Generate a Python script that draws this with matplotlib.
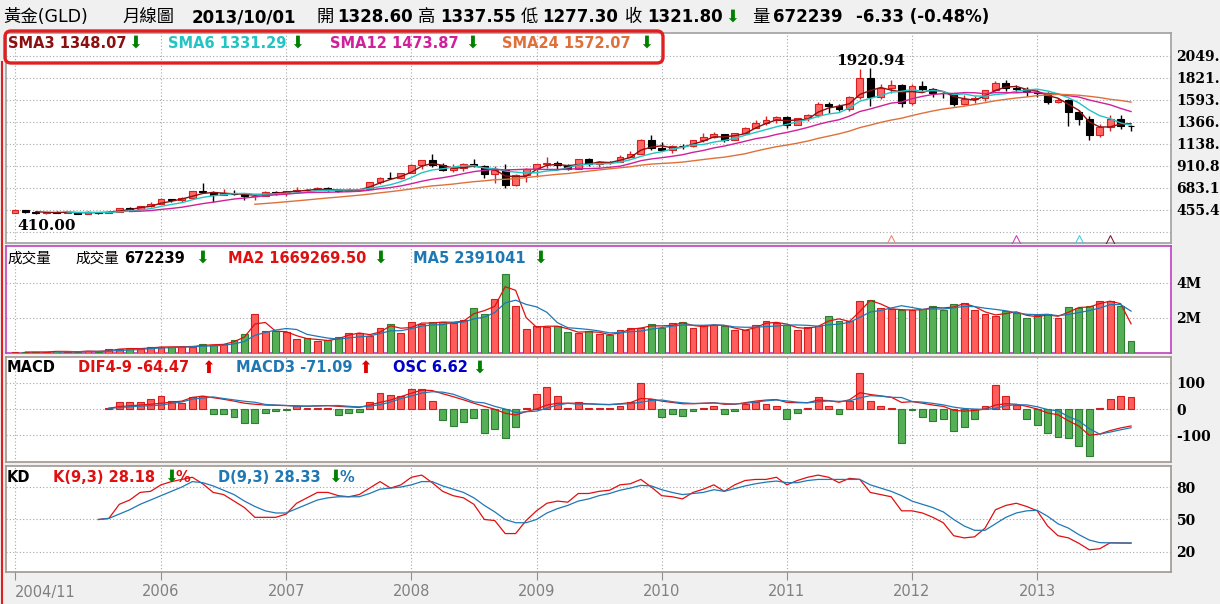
import numpy as np
import pandas as pd
import matplotlib
matplotlib.use('Agg')
import matplotlib.pyplot as plt
from matplotlib.patches import FancyBboxPatch
from matplotlib.lines import Line2D
from matplotlib.transforms import IdentityTransform

plt.rcParams['font.family'] = ['DejaVu Sans', 'Noto Sans CJK TC']

# ---- GLD monthly bars, 2004/11 .. 2013/10 (108 months) ----
opens = [428.5, 453.4,
         438.0, 422.2, 435.5, 428.6, 435.5, 417.6, 435.7, 429.0, 433.3, 473.3, 470.8, 495.7,
         513.0, 568.8, 556.0, 582.0, 654.0, 643.0, 614.0, 632.0, 623.0, 599.0, 604.0, 646.0,
         632.0, 650.0, 665.0, 663.0, 680.0, 659.0, 650.0, 665.0, 673.0, 743.0, 790.0, 783.0,
         834.0, 923.0, 972.0, 916.0, 865.0, 886.0, 930.0, 914.0, 833.0, 872.0, 718.0, 815.0,
         882.0, 927.0, 942.0, 916.0, 883.0, 978.0, 927.0, 955.0, 954.5, 1001.0, 1040.0, 1182.0,
         1096.0, 1081.0, 1118.0, 1113.0, 1180.0, 1212.0, 1244.0, 1181.0, 1248.0, 1307.0, 1357.0, 1386.0,
         1421.0, 1332.0, 1410.0, 1439.0, 1556.0, 1536.0, 1500.0, 1628.0, 1826.0, 1620.0, 1722.0, 1746.0,
         1561.24, 1737.0, 1711.0, 1668.0, 1664.0, 1555.0, 1604.0, 1614.0, 1692.0, 1772.0, 1719.0, 1711.0,
         1678.7, 1664.0, 1578.0, 1595.0, 1472.0, 1393.0, 1234.0, 1316.53, 1394.28, 1328.60]
highs = [456.3, 456.8,
         443.8, 439.6, 447.0, 437.5, 436.5, 443.8, 436.3, 448.0, 477.3, 481.5, 497.1, 540.0,
         575.0, 572.8, 587.0, 655.0, 730.4, 650.0, 669.0, 664.0, 634.0, 607.0, 648.0, 650.0,
         654.0, 690.0, 670.0, 692.0, 690.0, 673.0, 683.0, 675.0, 747.0, 794.0, 845.0, 840.0,
         934.0, 976.0, 1033.0, 945.0, 935.0, 937.0, 988.0, 916.0, 912.0, 934.0, 829.0, 887.0,
         933.0, 1006.0, 958.0, 932.0, 983.0, 990.0, 960.0, 967.0, 1024.0, 1070.0, 1195.0, 1227.0,
         1161.0, 1128.0, 1139.0, 1182.0, 1249.0, 1265.0, 1245.0, 1252.0, 1311.0, 1388.0, 1424.0, 1431.0,
         1424.0, 1411.0, 1447.0, 1576.0, 1577.0, 1553.0, 1632.0, 1911.0, 1920.94, 1764.0, 1803.0, 1764.0,
         1764.0, 1791.0, 1715.0, 1676.0, 1670.0, 1641.0, 1630.0, 1693.0, 1790.0, 1796.0, 1754.0, 1726.0,
         1695.0, 1680.0, 1617.0, 1600.0, 1487.0, 1424.0, 1348.0, 1434.0, 1434.0, 1337.55]
lows = [420.6, 426.4,
        416.3, 410.0, 424.4, 419.5, 414.3, 413.8, 418.0, 427.3, 432.0, 460.6, 456.0, 489.0,
        513.0, 538.0, 537.0, 580.0, 638.0, 543.0, 609.0, 613.0, 560.0, 562.0, 600.0, 609.0,
        604.0, 645.0, 637.0, 663.0, 651.0, 640.0, 648.0, 648.0, 672.0, 722.0, 777.0, 781.0,
        834.0, 882.0, 901.0, 859.0, 849.0, 859.0, 904.0, 786.0, 736.0, 681.0, 702.0, 750.0,
        801.0, 887.0, 865.0, 866.0, 881.0, 913.0, 905.0, 931.0, 948.0, 1000.0, 1033.0, 1075.0,
        1075.0, 1044.0, 1088.0, 1110.0, 1163.0, 1199.0, 1155.0, 1177.0, 1243.0, 1300.0, 1331.0, 1360.0,
        1308.0, 1330.0, 1381.0, 1420.0, 1462.0, 1477.0, 1478.0, 1605.0, 1535.0, 1603.0, 1670.0, 1523.0,
        1540.0, 1690.0, 1627.0, 1612.0, 1527.0, 1547.0, 1563.0, 1583.0, 1686.0, 1691.0, 1672.0, 1635.0,
        1626.0, 1555.0, 1562.0, 1321.0, 1338.0, 1180.0, 1208.0, 1271.0, 1292.0, 1277.30]
closes = [453.4, 438.0,
          422.2, 435.5, 428.6, 435.5, 417.6, 435.7, 429.0, 433.3, 473.3, 470.8, 495.7, 513.0,
          568.8, 556.0, 582.0, 654.0, 643.0, 614.0, 632.0, 623.0, 599.0, 604.0, 646.0, 632.0,
          650.0, 665.0, 663.0, 680.0, 659.0, 650.0, 665.0, 673.0, 743.0, 790.0, 783.0, 834.0,
          923.0, 972.0, 916.0, 865.0, 886.0, 930.0, 914.0, 833.0, 872.0, 718.0, 815.0, 882.0,
          927.0, 942.0, 916.0, 883.0, 978.0, 927.0, 955.0, 954.5, 1001.0, 1040.0, 1182.0, 1096.0,
          1081.0, 1118.0, 1113.0, 1180.0, 1212.0, 1244.0, 1181.0, 1248.0, 1307.0, 1357.0, 1386.0, 1421.0,
          1332.0, 1410.0, 1439.0, 1556.0, 1536.0, 1500.0, 1628.0, 1826.0, 1620.0, 1722.0, 1746.0, 1561.24,
          1737.0, 1711.0, 1668.0, 1664.0, 1555.0, 1604.0, 1614.0, 1692.0, 1772.0, 1719.0, 1711.0, 1678.7,
          1664.0, 1578.0, 1595.0, 1472.0, 1393.0, 1234.0, 1316.53, 1394.28, 1328.13, 1321.80]
# volume in millions
volumes_m = [0.05, 0.06,
             0.06, 0.06, 0.12, 0.06, 0.08, 0.13, 0.06, 0.20, 0.24, 0.26, 0.24, 0.33,
             0.35, 0.35, 0.37, 0.37, 0.49, 0.45, 0.53, 0.76, 1.06, 2.25, 1.24, 1.24,
             1.20, 0.78, 0.86, 0.69, 0.73, 0.90, 1.14, 1.14, 0.96, 1.43, 1.67, 1.16,
             1.75, 1.67, 1.75, 1.78, 1.73, 1.90, 2.59, 2.25, 3.08, 4.49, 2.67, 1.39,
             1.55, 1.51, 1.55, 1.22, 1.16, 1.27, 1.10, 1.00, 1.30, 1.40, 1.45, 1.65,
             1.45, 1.70, 1.75, 1.40, 1.60, 1.60, 1.55, 1.30, 1.30, 1.60, 1.80, 1.70,
             1.60, 1.30, 1.50, 1.55, 2.10, 1.80, 1.80, 2.95, 3.05, 2.55, 2.50, 2.45,
             2.45, 2.50, 2.70, 2.45, 2.80, 2.85, 2.45, 2.25, 2.10, 2.40, 2.30, 2.00,
             2.15, 2.20, 2.00, 2.65, 2.55, 2.70, 2.95, 2.966666, 2.6663, 0.672239]

# MACD (DIF 4-9 and OSC), from month 9 on
dif = [3, 9, 12, 15, 18, 22, 26, 30, 44, 49, 43, 37, 30, 22, 18, 15, 14, 13, 12, 11,
       12, 13, 10, 8, 6, 15, 25, 34, 47, 60, 72, 70, 58, 47, 35, 22, 10, -1, -16, -23,
       -10, 0, 15, 22, 22, 22, 20, 18, 17, 20, 24, 40, 38, 30, 25, 20, 20, 22, 24, 18,
       18, 24, 30, 34, 36, 25, 24, 24, 34, 32, 26, 35, 62, 55, 50, 45, 25, 28, 22, 15,
       10, -5, -8, -6, 0, 15, 20, 18, 10, 0, -15, -22, -45, -65, -100, -95, -82, -72, -64.47]
osc = [0.5, 3.6, 3.6, 4.0, 5.3, 7.3, 4.6, 3.1, 6.7, 7.3, -2.9, -2.9, -4.6, -7.4, -7.7, -2.3,
       -1.1, -0.4, 1.4, 0.6, 0.4, 0.4, -3.3, -2.3, -1.9, 4.0, 8.6, 7.6, 7.0, 10.7, 11.1, 4.3,
       -6.1, -9.3, -7.0, -5.0, -13.1, -11.0, -15.9, -9.7, 0.4, 8.0, 11.7, 6.9, 0.4, 3.6, 0.7,
       0.7, 0.4, 1.4, 3.6, 14.3, 5.7, -4.3, -2.9, -3.6, -1.1, 0.7, 1.4, -2.9, -1.1, 2.9, 3.6,
       2.9, 1.7, -5.7, -2.1, 0.4, 6.4, 1.4, -2.9, 4.3, 19.6, 4.3, 1.4, 0.7, -18.6, -0.7, -4.3,
       -6.4, -5.7, -12.1, -10.0, -5.7, 1.4, 12.9, 7.1, 2.1, -5.7, -8.6, -12.9, -15.0, -15.7,
       -20.0, -25.4, 0.7, 5.7, 7.1, 6.62]
OSC_SCALE = 7  # histogram is drawn magnified against the line scale

# KD(9,3), from month 8 on
k_vals = [50, 51, 64, 68, 75, 76, 82, 85, 87, 89, 83, 75, 73, 67, 61, 52, 52, 52, 55, 65,
          70, 75, 75, 72, 71, 73, 79, 85, 79, 82, 89, 91, 84, 76, 72, 70, 64, 50, 49, 37,
          37, 49, 58, 65, 67, 66, 74, 74, 76, 77, 82, 83, 87, 80, 72, 71, 69, 75, 78, 82,
          76, 82, 86, 87, 87, 89, 82, 86, 89, 91, 89, 84, 88, 87, 75, 73, 71, 58, 58, 56,
          52, 47, 35, 33, 34, 42, 59, 63, 65, 62, 58, 44, 35, 33, 28, 22, 23, 28.5, 28.3, 28.18]
d_vals = [50, 51, 55, 59, 64, 68, 72, 76, 80, 85, 84, 81, 77, 73, 67, 62, 58, 56, 56, 60,
          64, 68, 70, 71, 71, 71, 74, 78, 79, 80, 82, 85, 85, 81, 78, 75, 70, 63, 57, 50,
          47, 47, 50, 56, 60, 63, 67, 69, 72, 74, 77, 79, 81.5, 81, 77.5, 75, 73, 74, 75, 77.5,
          76, 78.5, 81, 83, 84.5, 85.5, 84, 84, 86, 87, 87, 87, 87, 87, 82, 79, 76, 72, 67, 64,
          61, 57, 50, 44, 40, 40, 46, 52, 56, 58, 58.5, 53, 46, 42, 36, 31, 28.6, 28.4, 28.3, 28.33]

year_ticks = [0, 14, 26, 38, 50, 62, 74, 86, 98]
year_labels = ['2004/11', '2006', '2007', '2008', '2009', '2010', '2011', '2012', '2013']
price_ticks = [227.7, 455.4, 683.1, 910.8, 1138.5, 1366.2, 1593.9, 1821.6, 2049.3]
cross_idx = [84, 96, 102, 105]
cross_colors = ['#F08878', '#D040C0', '#40D0E0', '#802040']

W, H = 1220, 604
fig = plt.figure(figsize=(W / 100, H / 100), dpi=100, facecolor='#F0F0F0')

n = len(closes)
x = np.arange(n)
o = np.array(opens); c = np.array(closes)
hi = np.array(highs); lo = np.array(lows)
vol = np.array(volumes_m) * 1e6
up = c >= o

grid_kw = dict(color='#A8A8A8', linestyle=(0, (1, 2)), linewidth=0.8)
XL = (-0.86, 110.83)
RED_FILL, RED_EDGE = '#FF5C5C', '#D02020'
GRN_FILL, GRN_EDGE = '#55B055', '#2E7D32'


def panel(top, bottom, edge):
    ax = fig.add_axes([6 / W, 1 - bottom / H, 1165 / W, (bottom - top) / H])
    ax.set_xlim(*XL)
    ax.set_facecolor('white')
    for s in ax.spines.values():
        s.set_color(edge)
        s.set_linewidth(1.2)
    ax.set_xticks(year_ticks)
    ax.tick_params(axis='x', length=0, labelbottom=False)
    ax.grid(axis='both', **grid_kw)
    ax.set_axisbelow(True)
    ax.yaxis.tick_right()
    ax.tick_params(axis='y', length=0, pad=4, labelsize=10)
    return ax


def bold_ticks(ax, vals, labels):
    ax.set_yticks(vals)
    ax.set_yticklabels(labels, fontweight='bold', family='DejaVu Serif')


# ---- price panel ----
ax1 = panel(33, 243, '#A0A0A0')
ax1.set_ylim(113.9, 2287)
# the right edge of the window cuts the price labels to five characters
bold_ticks(ax1, price_ticks, [''] + [('%.1f' % v)[:5] for v in price_ticks[1:]])
wick_col = np.where(up, '#E02020', 'black')
ax1.vlines(x, lo, hi, colors=wick_col, linewidth=1.0, zorder=3)
ax1.bar(x[up], c[up] - o[up], bottom=o[up], width=0.66, color='#FF6666',
        edgecolor='#D82020', linewidth=0.8, zorder=4)
ax1.bar(x[~up], c[~up] - o[~up], bottom=o[~up], width=0.66, color='black',
        edgecolor='black', linewidth=0.8, zorder=4)
cs = pd.Series(c)
sma_cols = {3: '#8B1010', 6: '#22C4C4', 12: '#D0209A', 24: '#E0703A'}
for per, col in sma_cols.items():
    ax1.plot(x, cs.rolling(per).mean(), color=col, linewidth=1.0, zorder=5)
for xi, col in zip(cross_idx, cross_colors):
    ax1.plot([xi], [150], marker='^', markersize=7, markerfacecolor='none',
             markeredgecolor=col, markeredgewidth=0.8, zorder=6)
imax = int(np.argmax(hi)); imin = int(np.argmin(lo))
ax1.annotate('%.2f' % hi[imax], (imax, hi[imax]), xytext=(0, 0), textcoords='offset points',
             ha='center', va='bottom', fontsize=11, fontweight='bold', family='DejaVu Serif')
ax1.annotate('%.2f' % lo[imin], (imin, lo[imin]), xytext=(0, -3), textcoords='offset points',
             ha='center', va='top', fontsize=11, fontweight='bold', family='DejaVu Serif')

# ---- volume panel ----
ax2 = panel(246, 353, '#C040C0')
ax2.set_ylim(0, 6.11e6)
bold_ticks(ax2, [2e6, 4e6], ['2M', '4M'])
ax2.bar(x[up], vol[up], width=0.66, color=RED_FILL, edgecolor=RED_EDGE, linewidth=0.8, zorder=3)
ax2.bar(x[~up], vol[~up], width=0.66, color=GRN_FILL, edgecolor=GRN_EDGE, linewidth=0.8, zorder=3)
vs = pd.Series(vol)
ax2.plot(x, vs.rolling(2).mean(), color='#E01010', linewidth=0.9, zorder=4)
ax2.plot(x, vs.rolling(5).mean(), color='#1F78B4', linewidth=0.9, zorder=4)

# ---- MACD panel ----
ax3 = panel(357, 462, '#A09890')
ax3.set_ylim(-201.5, 197.7)
bold_ticks(ax3, [-100, 0, 100], ['-100', '0', '100'])
xm = np.arange(n - len(dif), n)
dif_a = np.array(dif); osc_a = np.array(osc)
macd_a = dif_a - osc_a
pos = osc_a >= 0
ax3.bar(xm[pos], osc_a[pos] * OSC_SCALE, width=0.66, color=RED_FILL, edgecolor=RED_EDGE,
        linewidth=0.8, zorder=3)
ax3.bar(xm[~pos], osc_a[~pos] * OSC_SCALE, width=0.66, color=GRN_FILL, edgecolor=GRN_EDGE,
        linewidth=0.8, zorder=3)
ax3.plot(xm, dif_a, color='#E01010', linewidth=0.9, zorder=5)
ax3.plot(xm, macd_a, color='#1F78B4', linewidth=0.9, zorder=5)

# ---- KD panel ----
ax4 = panel(466, 572, '#A09890')
ax4.set_ylim(1.5, 99.4)
bold_ticks(ax4, [20, 50, 80], ['20', '50', '80'])
xk = np.arange(n - len(k_vals), n)
ax4.plot(xk, k_vals, color='#E01010', linewidth=0.9)
ax4.plot(xk, d_vals, color='#1F78B4', linewidth=0.9)
ax4.tick_params(axis='x', length=6, direction='out', color='#909090',
                labelbottom=True, labelsize=10.5, labelcolor='#808080', pad=3)
ax4.set_xticklabels(year_labels)
ax4.get_xticklabels()[0].set_ha('left')


# ---- texts ----
def ftext(px, py, s, **kw):
    fig.text(px / W, 1 - py / H, s, ha='left', va='center', **kw)


def arrow(px, py, down=True):
    ftext(px, py, '⬇' if down else '⬆', color='#008000' if down else '#E00000',
          fontsize=12, family=['DejaVu Sans'])


hy = 17
ftext(3, hy, '黃金(GLD)', fontsize=12.5)
ftext(122, hy, '月線圖', fontsize=12.5)
ftext(192, hy, '2013/10/01', fontsize=12, fontweight='bold')
for lab, px, val, vx in [('開', 316, '%.2f' % opens[-1], 337), ('高', 418, '%.2f' % highs[-1], 440),
                         ('低', 521, '%.2f' % lows[-1], 542), ('收', 625, '%.2f' % closes[-1], 647)]:
    ftext(px, hy, lab, fontsize=12.5)
    ftext(vx, hy, val, fontsize=12, fontweight='bold')
arrow(725, hy)
ftext(752, hy, '量', fontsize=12.5)
ftext(773, hy, '%d' % round(vol[-1]), fontsize=12, fontweight='bold')
chg = closes[-1] - closes[-2]
ftext(856, hy, '%.2f (%.2f%%)' % (chg, chg / closes[-2] * 100), fontsize=12, fontweight='bold')

ly = 43
sma_last = {p: cs.rolling(p).mean().iloc[-1] for p in sma_cols}
for (per, col), px, ax_ in zip(sma_cols.items(), [8, 168, 330, 502], [128, 290, 465, 639]):
    ftext(px, ly, 'SMA%d %.2f' % (per, sma_last[per]), color=col, fontsize=10.5, fontweight='bold')
    arrow(ax_, ly)

vy = 258
ftext(7, vy, '成交量', fontsize=10.5)
ftext(75, vy, '成交量', fontsize=10.5)
ftext(124, vy, '%d' % round(vol[-1]), fontsize=10.5, fontweight='bold')
arrow(195, vy)
ftext(228, vy, 'MA2 %.2f' % vs.rolling(2).mean().iloc[-1], color='#E01010', fontsize=10.5, fontweight='bold')
arrow(373, vy)
ftext(413, vy, 'MA5 %d' % round(vs.rolling(5).mean().iloc[-1]), color='#1F78B4', fontsize=10.5, fontweight='bold')
arrow(533, vy)

my = 368
ftext(7, my, 'MACD', fontsize=10.5, fontweight='bold')
ftext(78, my, 'DIF4-9 %.2f' % dif_a[-1], color='#E01010', fontsize=10.5, fontweight='bold')
arrow(201, my, down=False)
ftext(236, my, 'MACD3 %.2f' % macd_a[-1], color='#1F78B4', fontsize=10.5, fontweight='bold')
arrow(358, my, down=False)
ftext(393, my, 'OSC %.2f' % osc_a[-1], color='#0000C8', fontsize=10.5, fontweight='bold')
arrow(472, my)

ky = 477
ftext(7, ky, 'KD', fontsize=10.5, fontweight='bold')
ftext(53, ky, 'K(9,3) %.2f' % k_vals[-1], color='#E01010', fontsize=10.5, fontweight='bold')
arrow(164, ky)
ftext(176, ky, '%', color='#E01010', fontsize=10.5, fontweight='bold')
ftext(218, ky, 'D(9,3) %.2f' % d_vals[-1], color='#1F78B4', fontsize=10.5, fontweight='bold')
arrow(328, ky)
ftext(340, ky, '%', color='#1F78B4', fontsize=10.5, fontweight='bold')

# red highlight around the SMA legend, and the red edge line
box = FancyBboxPatch((5, H - 63), 658, 32, boxstyle='round,pad=0,rounding_size=6',
                     transform=IdentityTransform(), facecolor='none', edgecolor='#E02020',
                     linewidth=2.4, zorder=10)
fig.patches.append(box)
fig.lines.append(Line2D([1.5, 1.5], [0, H - 62], transform=IdentityTransform(),
                        color='#E02020', linewidth=1.5))

fig.savefig('out.png', dpi=100, facecolor=fig.get_facecolor())
